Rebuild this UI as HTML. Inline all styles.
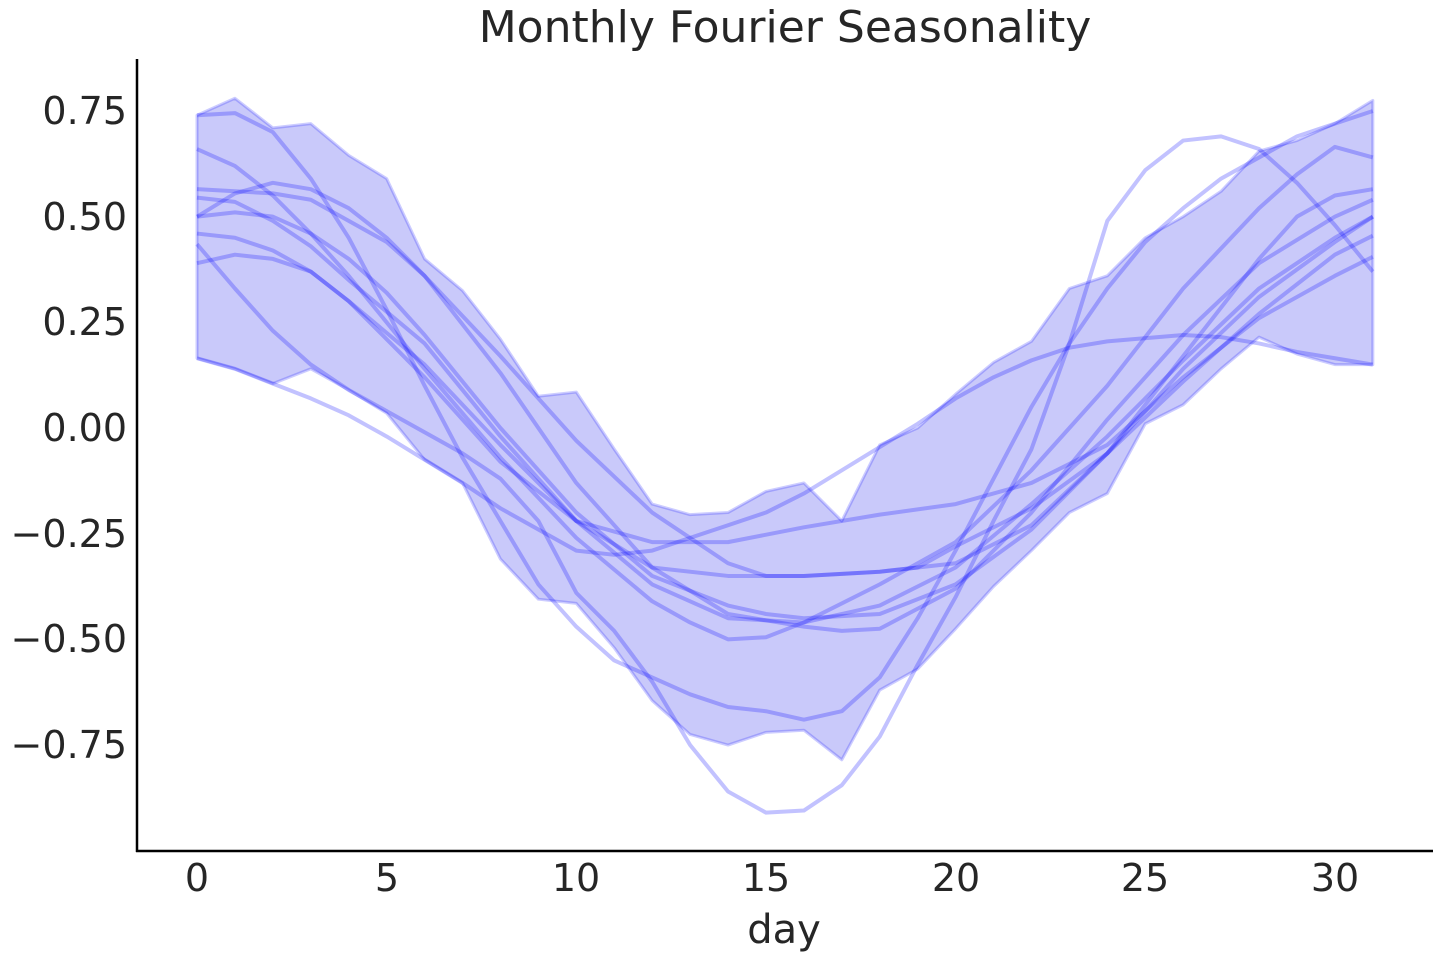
<!DOCTYPE html>
<html><head><meta charset="utf-8"><style>
body{margin:0;background:#fff;width:1440px;height:960px;overflow:hidden}
svg text{font-family:"DejaVu Sans","Liberation Sans",sans-serif;fill:#262626}
</style></head><body>
<svg width="1440" height="960" viewBox="0 0 1440 960">
<text x="785" y="42" font-size="44" text-anchor="middle">Monthly Fourier Seasonality</text>
<g transform="translate(197,428) scale(37.93,-422.7)">
<polygon fill="rgba(0,0,230,0.21)" stroke="rgba(0,0,255,0.2)" stroke-width="3" vector-effect="non-scaling-stroke" stroke-linejoin="round" points="0,0.74 1,0.78 2,0.71 3,0.72 4,0.645 5,0.59 6,0.4 7,0.325 8,0.21 9,0.075 10,0.085 11,-0.05 12,-0.18 13,-0.205 14,-0.2 15,-0.15 16,-0.13 17,-0.22 18,-0.04 19,0.0 20,0.08 21,0.155 22,0.205 23,0.33 24,0.36 25,0.45 26,0.5 27,0.56 28,0.655 29,0.68 30,0.72 31,0.775 31,0.15 30,0.15 29,0.175 28,0.215 27,0.14 26,0.055 25,0.01 24,-0.155 23,-0.2 22,-0.29 21,-0.375 20,-0.475 19,-0.57 18,-0.62 17,-0.785 16,-0.715 15,-0.72 14,-0.75 13,-0.725 12,-0.645 11,-0.52 10,-0.415 9,-0.405 8,-0.31 7,-0.13 6,-0.075 5,0.035 4,0.09 3,0.14 2,0.105 1,0.14 0,0.165"/>
<g fill="none" stroke="rgba(0,0,255,0.24)" stroke-width="4" vector-effect="non-scaling-stroke" stroke-linejoin="round">
<polyline vector-effect="non-scaling-stroke" points="0,0.74 1,0.745 2,0.70 3,0.59 4,0.45 5,0.28 6,0.1 7,-0.07 8,-0.22 9,-0.37 10,-0.47 11,-0.55 12,-0.59 13,-0.63 14,-0.66 15,-0.67 16,-0.69 17,-0.67 18,-0.59 19,-0.45 20,-0.29 21,-0.12 22,0.05 23,0.2 24,0.33 25,0.44 26,0.52 27,0.59 28,0.64 29,0.69 30,0.72 31,0.75"/>
<polyline vector-effect="non-scaling-stroke" points="0,0.66 1,0.62 2,0.55 3,0.46 4,0.36 6,0.14 8,-0.07 10,-0.26 12,-0.41 13,-0.46 14,-0.5 15,-0.495 16,-0.46 18,-0.37 20,-0.27 22,-0.1 24,0.1 26,0.33 28,0.52 29,0.6 30,0.665 31,0.64"/>
<polyline vector-effect="non-scaling-stroke" points="0,0.565 2,0.555 3,0.54 4,0.49 5,0.44 6,0.36 8,0.17 10,-0.03 12,-0.2 14,-0.32 15,-0.35 16,-0.35 18,-0.34 20,-0.32 22,-0.23 24,-0.06 26,0.17 28,0.4 29,0.5 30,0.55 31,0.565"/>
<polyline vector-effect="non-scaling-stroke" points="0,0.5 1,0.555 2,0.58 3,0.565 4,0.52 5,0.45 6,0.36 8,0.13 10,-0.13 12,-0.33 14,-0.44 15,-0.455 16,-0.47 17,-0.48 18,-0.475 20,-0.38 22,-0.2 24,0.02 26,0.22 28,0.39 30,0.5 31,0.54"/>
<polyline vector-effect="non-scaling-stroke" points="0,0.545 1,0.535 2,0.49 3,0.43 4,0.35 6,0.2 8,-0.02 10,-0.22 12,-0.37 14,-0.45 16,-0.46 18,-0.42 20,-0.33 22,-0.18 24,-0.02 26,0.16 28,0.33 30,0.45 31,0.5"/>
<polyline vector-effect="non-scaling-stroke" points="0,0.46 1,0.45 2,0.42 3,0.37 4,0.3 6,0.15 8,-0.04 10,-0.22 12,-0.33 14,-0.35 16,-0.35 18,-0.34 19,-0.33 20,-0.28 22,-0.19 24,-0.06 26,0.11 28,0.27 30,0.41 31,0.455"/>
<polyline vector-effect="non-scaling-stroke" points="0,0.435 1,0.33 2,0.23 3,0.15 4,0.09 5,0.04 6,-0.01 7,-0.06 8,-0.12 9,-0.22 10,-0.39 11,-0.48 12,-0.6 13,-0.75 14,-0.86 15,-0.91 16,-0.905 17,-0.845 18,-0.73 19,-0.56 20,-0.4 21,-0.22 22,-0.05 23,0.2 24,0.49 25,0.61 26,0.68 27,0.69 28,0.66 29,0.58 30,0.48 31,0.37"/>
<polyline vector-effect="non-scaling-stroke" points="0,0.39 1,0.41 2,0.40 3,0.37 4,0.3 6,0.12 8,-0.08 10,-0.22 12,-0.27 14,-0.27 16,-0.235 18,-0.205 20,-0.18 22,-0.13 24,-0.04 26,0.12 28,0.26 30,0.36 31,0.405"/>
<polyline vector-effect="non-scaling-stroke" points="0,0.165 1,0.14 2,0.105 3,0.07 4,0.03 5,-0.02 6,-0.075 7,-0.13 8,-0.19 10,-0.29 11,-0.3 12,-0.29 13,-0.26 14,-0.23 15,-0.2 16,-0.155 17,-0.1 18,-0.045 19,0.01 20,0.07 21,0.12 22,0.16 23,0.19 24,0.205 26,0.22 27,0.215 28,0.2 29,0.18 30,0.165 31,0.15"/>
<polyline vector-effect="non-scaling-stroke" points="0,0.5 1,0.51 2,0.5 3,0.46 4,0.4 5,0.32 6,0.22 8,0.0 10,-0.2 12,-0.35 14,-0.42 15,-0.44 16,-0.45 18,-0.44 20,-0.37 22,-0.24 24,-0.06 26,0.14 28,0.31 30,0.44 31,0.5"/>
</g>
</g>
<g stroke="#000" stroke-width="2.5"><line x1="137" y1="59" x2="137" y2="852"/><line x1="136" y1="851" x2="1433" y2="851"/></g>
<g font-size="38" text-anchor="end">
<text x="127" y="124">0.75</text><text x="127" y="230">0.50</text><text x="127" y="335">0.25</text><text x="127" y="441">0.00</text><text x="127" y="547">−0.25</text><text x="127" y="652">−0.50</text><text x="127" y="758">−0.75</text>
</g>
<g font-size="38" text-anchor="middle">
<text x="197" y="891">0</text><text x="387" y="891">5</text><text x="576" y="891">10</text><text x="766" y="891">15</text><text x="956" y="891">20</text><text x="1145" y="891">25</text><text x="1335" y="891">30</text>
<text x="784" y="943" font-size="40">day</text>
</g>
</svg>
</body></html>
